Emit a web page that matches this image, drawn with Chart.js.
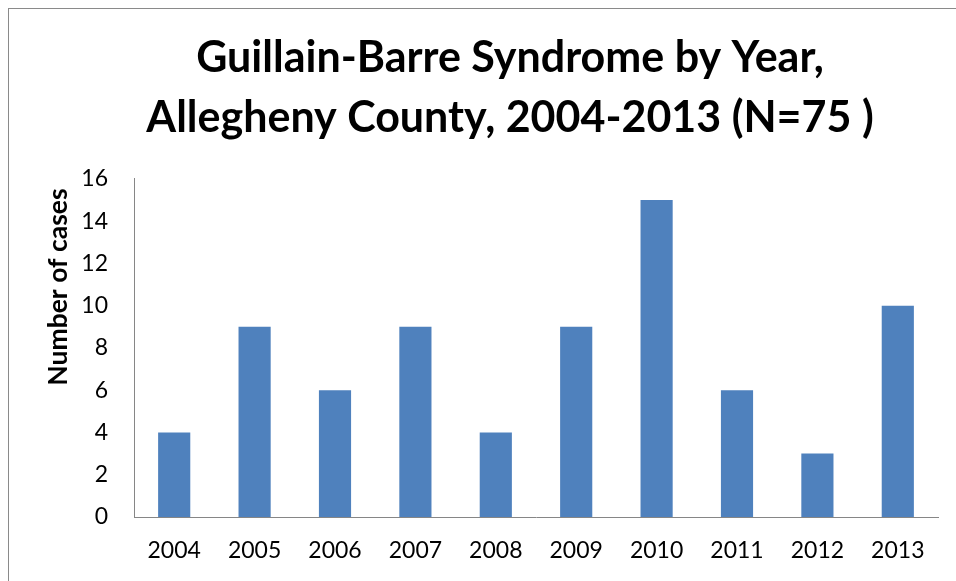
<!DOCTYPE html>
<html>
<head>
<meta charset="utf-8">
<script src="https://cdn.jsdelivr.net/npm/chart.js@4/dist/chart.umd.min.js"></script>
<style>
  html, body { margin: 0; padding: 0; background: #fff; }
  #wrap { width: 956px; height: 581px; }
</style>
</head>
<body>
<div id="wrap"><canvas id="c" width="956" height="581"></canvas></div>
<script>
// Guillain-Barre cases per year, Allegheny County
const years = ['2004', '2005', '2006', '2007', '2008', '2009', '2010', '2011', '2012', '2013'];
const cases = [4, 9, 6, 9, 4, 9, 15, 6, 3, 10];
const titleLines = ['Guillain-Barre Syndrome by Year,', 'Allegheny County, 2004-2013 (N=75 )'];
const yAxisTitle = 'Number of cases';

const FONT = 'Lato, "Open Sans", sans-serif';

// Outer frame and the rotated value-axis caption
const decorations = {
  id: 'decorations',
  beforeDraw(chart) {
    const ctx = chart.ctx;
    ctx.save();
    ctx.strokeStyle = '#8a8a8a';
    ctx.lineWidth = 1;
    ctx.strokeRect(8.5, 8.5, 1200, 1200);
    ctx.restore();
  },
  afterDraw(chart) {
    const ctx = chart.ctx;
    ctx.save();
    ctx.translate(58, 287);
    ctx.rotate(-Math.PI / 2);
    ctx.font = 'bold 26.5px ' + FONT;
    ctx.fillStyle = '#000';
    ctx.textAlign = 'center';
    ctx.textBaseline = 'middle';
    ctx.fillText(yAxisTitle, 0, 0);
    ctx.restore();
  }
};

new Chart(document.getElementById('c'), {
  type: 'bar',
  data: {
    labels: years,
    datasets: [{
      data: cases,
      backgroundColor: '#4f81bd',
      borderWidth: 0,
      categoryPercentage: 1,
      barPercentage: 0.4
    }]
  },
  options: {
    responsive: false,
    animation: false,
    layout: { padding: { left: 82, right: 18, top: 0, bottom: 18 } },
    plugins: {
      legend: { display: false },
      tooltip: { enabled: false },
      title: {
        display: true,
        text: titleLines,
        color: '#000',
        font: { family: FONT, size: 43, weight: 'bold', lineHeight: 1.395 },
        padding: { top: 28, bottom: 31 }
      }
    },
    scales: {
      x: {
        grid: { display: false, drawTicks: false },
        border: { display: true, color: '#868686', width: 1 },
        ticks: { color: '#000', padding: 20, font: { family: FONT, size: 23 } },
        afterFit(scale) { scale.height = 46; }
      },
      y: {
        min: 0,
        max: 16,
        grid: { display: false, drawTicks: false },
        border: { display: true, color: '#868686', width: 1 },
        ticks: { stepSize: 2, color: '#000', padding: 26, font: { family: FONT, size: 23 } },
        afterFit(scale) { scale.width = 52; }
      }
    }
  },
  plugins: [decorations]
});
</script>
</body>
</html>
